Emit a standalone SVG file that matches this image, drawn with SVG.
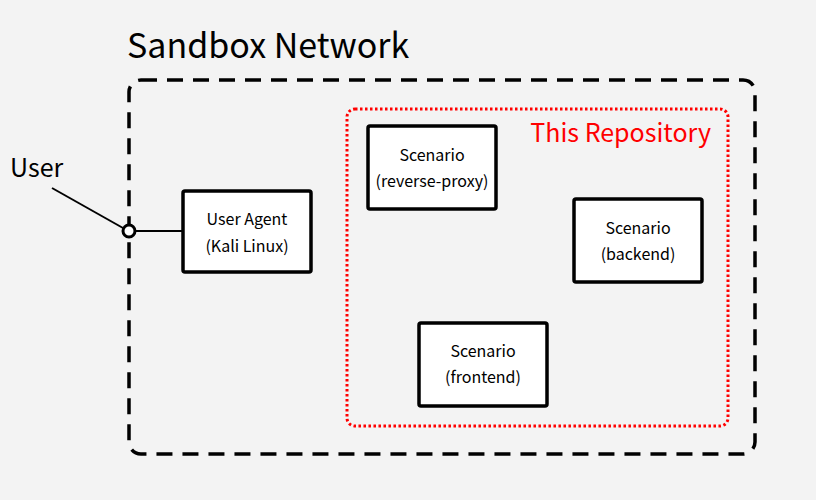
<svg xmlns="http://www.w3.org/2000/svg" width="816" height="500" viewBox="0 0 816 500">
<style>
text{font-family:"Noto Sans CJK JP","Noto Sans",sans-serif;fill:#000}
.node rect{fill:#fff;stroke:#000;stroke-width:3.5}
.node text{font-size:16px;text-anchor:middle}
</style>
<rect width="816" height="500" fill="#f3f3f3"/>
<g id="sandbox">
<rect x="129" y="80" width="626" height="374" rx="12" fill="none" stroke="#000" stroke-width="3.5" stroke-dasharray="16,10"/>
<text x="127" y="58" font-size="34">Sandbox Network</text>
</g>
<g id="repository">
<rect x="347" y="109" width="381" height="317" rx="8" fill="none" stroke="#f00" stroke-width="3" stroke-dasharray="2.5,2.5"/>
<text x="711" y="142" font-size="25" text-anchor="end" style="fill:#f00">This Repository</text>
</g>
<g id="user">
<text x="10" y="177" font-size="25">User</text>
</g>
<g id="connectors" stroke="#000" stroke-width="2" fill="none">
<line x1="52" y1="188" x2="123" y2="228"/>
<line x1="135" y1="231" x2="183" y2="231"/>
<circle cx="129" cy="231" r="6" fill="#fff" stroke-width="3"/>
</g>
<g id="user-agent" class="node">
<rect x="183" y="191" width="128" height="81" rx="2"/>
<text x="247" y="225">User Agent</text>
<text x="247" y="252">(Kali Linux)</text>
</g>
<g id="reverse-proxy" class="node">
<rect x="368" y="126" width="128" height="83" rx="2"/>
<text x="432" y="161">Scenario</text>
<text x="432" y="187">(reverse-proxy)</text>
</g>
<g id="backend" class="node">
<rect x="574" y="199" width="128" height="83" rx="2"/>
<text x="638" y="234">Scenario</text>
<text x="638" y="260">(backend)</text>
</g>
<g id="frontend" class="node">
<rect x="419" y="323" width="128" height="83" rx="2"/>
<text x="483" y="357">Scenario</text>
<text x="483" y="383">(frontend)</text>
</g>
</svg>
